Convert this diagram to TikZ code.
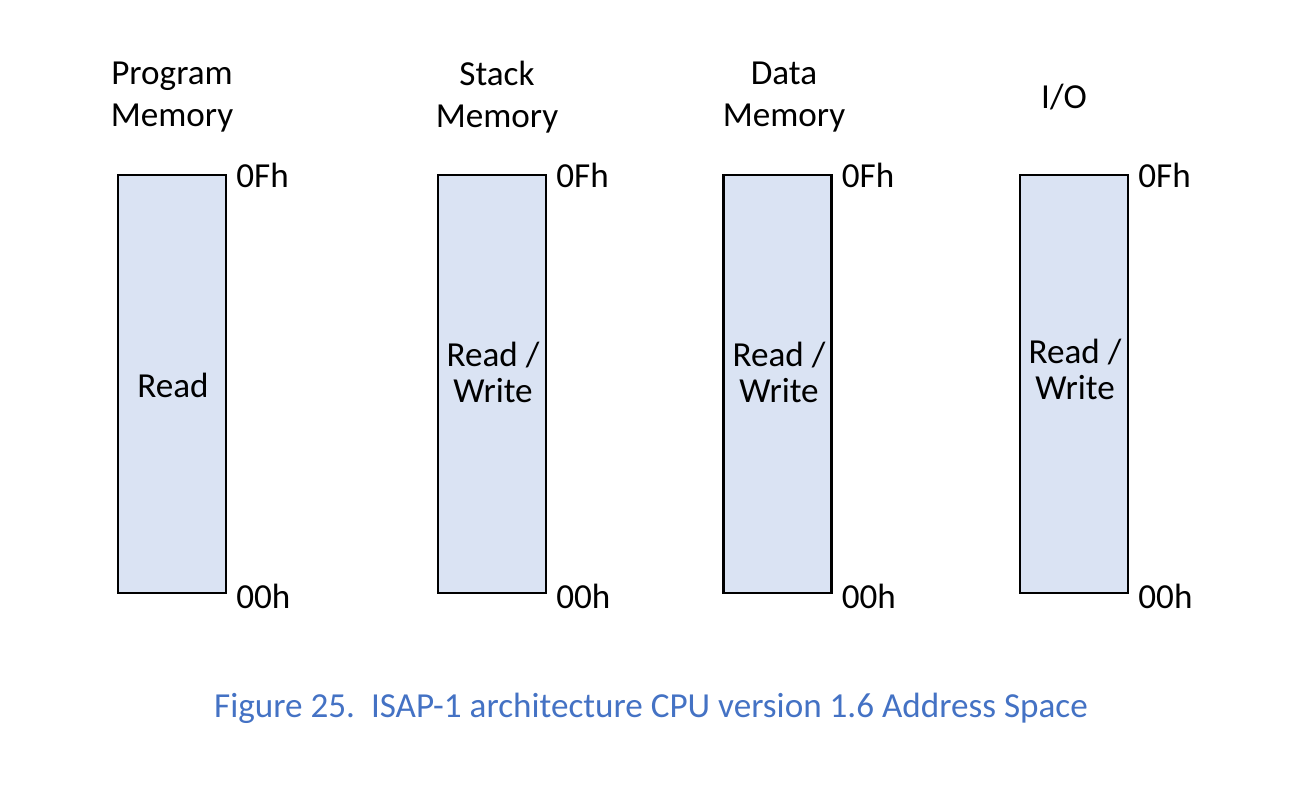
\documentclass[tikz,border=0pt]{standalone}
\usepackage{fontspec}
\setmainfont{Carlito}
\usetikzlibrary{positioning}
\definecolor{boxfill}{HTML}{DAE3F3}
\definecolor{capblue}{HTML}{4472C4}

\tikzset{
  membox/.style={draw=black, line width=1.4pt, fill=boxfill, minimum width=2.16cm, minimum height=8.36cm, inner sep=0pt},
  head/.style={align=center, font=\fontsize{20}{24}\selectfont},
  inside/.style={align=center, font=\fontsize{20}{20.5}\selectfont},
  addr/.style={anchor=west, inner sep=5pt, yshift=-0.04cm, font=\fontsize{20}{24}\selectfont}
}

\begin{document}
\begin{tikzpicture}[x=0.02cm, y=-0.02cm]
\useasboundingbox (0,0) rectangle (1298,791);
% memory blocks
\node[membox] (pbox) at (172,384) {};
\node[membox] (sbox) at (492,384) {};
\node[membox] (dbox) at (777.5,384) {};
\node[membox] (iobox) at (1074,384) {};
% headings
\node[head] (phead) at (172,97) {Program\\Memory};
\node[head] (shead) at (497,97) {Stack\\Memory};
\node[head] (dhead) at (784,97) {Data\\Memory};
\node[head] (iohead) at (1064,97) {I/O};
% access
\node[inside] (pacc) at (173,385) {Read};
\node[inside] (sacc) at (493,372) {Read /\\Write};
\node[inside] (dacc) at (779,372) {Read /\\Write};
\node[inside] (ioacc) at (1075,369) {Read /\\Write};
% addresses
\foreach \b in {pbox,sbox,dbox,iobox}{
  \node[addr] (\b top) at (\b.north east) {0Fh};
  \node[addr] (\b bot) at (\b.south east) {00h};
}
% caption
\node[text=capblue, font=\fontsize{20}{24}\selectfont] (caption) at (651,708) {Figure 25.\ \ ISAP-1 architecture CPU version 1.6 Address Space};
\end{tikzpicture}
\end{document}
